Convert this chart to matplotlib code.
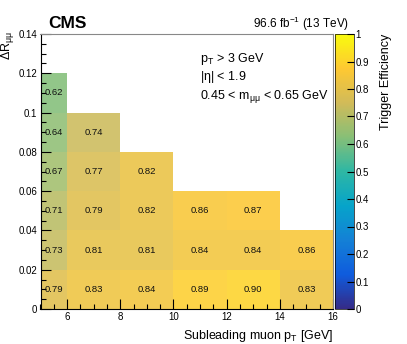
import numpy as np
import matplotlib.pyplot as plt
from matplotlib.colors import LinearSegmentedColormap
from matplotlib.ticker import MultipleLocator

plt.rcParams['font.family'] = ['Liberation Sans', 'DejaVu Sans']
plt.rcParams['mathtext.fontset'] = 'custom'
plt.rcParams['mathtext.rm'] = 'Liberation Sans'
plt.rcParams['mathtext.it'] = 'Liberation Sans'

# bin edges
pt_edges = [5, 6, 8, 10, 12, 14, 16]
dr_edges = [0, 0.02, 0.04, 0.06, 0.08, 0.10, 0.12]

# efficiency per (dR row, pT column); nan = empty
eff = np.array([
    [0.79, 0.83, 0.84, 0.89, 0.90, 0.83],
    [0.73, 0.81, 0.81, 0.84, 0.84, 0.86],
    [0.71, 0.79, 0.82, 0.86, 0.87, np.nan],
    [0.67, 0.77, 0.82, np.nan, np.nan, np.nan],
    [0.64, 0.74, np.nan, np.nan, np.nan, np.nan],
    [0.62, np.nan, np.nan, np.nan, np.nan, np.nan],
])

# ROOT kBird palette
stops = [0.0, 0.125, 0.25, 0.375, 0.5, 0.625, 0.75, 0.875, 1.0]
red = [0.2082, 0.0592, 0.0780, 0.0232, 0.1802, 0.5301, 0.8186, 0.9956, 0.9764]
green = [0.1664, 0.3599, 0.5041, 0.6419, 0.7178, 0.7492, 0.7328, 0.7862, 0.9832]
blue = [0.5293, 0.8684, 0.8385, 0.7914, 0.6425, 0.4662, 0.3499, 0.1968, 0.0539]
bird = LinearSegmentedColormap.from_list(
    'bird', [(s, (r, g, b)) for s, r, g, b in zip(stops, red, green, blue)])

fig = plt.figure(figsize=(4.07, 3.44), dpi=100)
ax = fig.add_axes([40.5 / 407, 35 / 344, 292.5 / 407, 275 / 344])
cax = fig.add_axes([335 / 407, 35 / 344, 19 / 407, 275 / 344])

mesh = ax.pcolormesh(pt_edges, dr_edges, np.ma.masked_invalid(eff),
                     cmap=bird, vmin=0, vmax=1, alpha=0.88, edgecolor='none')

for i in range(len(dr_edges) - 1):
    for j in range(len(pt_edges) - 1):
        v = eff[i, j]
        if np.isnan(v):
            continue
        xc = 0.5 * (pt_edges[j] + pt_edges[j + 1])
        yc = 0.5 * (dr_edges[i] + dr_edges[i + 1])
        ax.text(xc, yc, f'{v:.2f}', ha='center', va='center', fontsize=6.8, color='#111111')

ax.set_xlim(5, 16)
ax.set_ylim(0, 0.14)
ax.xaxis.set_minor_locator(MultipleLocator(0.5))
ax.yaxis.set_minor_locator(MultipleLocator(0.005))
ax.set_xticks([6, 8, 10, 12, 14, 16])
ax.set_xticklabels(['6', '8', '10', '12', '14', '16'])
ax.set_yticks([0, 0.02, 0.04, 0.06, 0.08, 0.1, 0.12, 0.14])
ax.set_yticklabels(['0', '0.02', '0.04', '0.06', '0.08', '0.1', '0.12', '0.14'])
ax.tick_params(which='both', direction='in', labelsize=7, top=False, right=False, pad=2.5)
ax.tick_params(which='major', length=7, width=0.8)
ax.tick_params(which='minor', length=3.5, width=0.8)
for s in ['top', 'right']:
    ax.spines[s].set_color('#888888')

ax.set_xlabel('Subleading muon p$_{\\mathregular{T}}$ [GeV]', fontsize=9, loc='right')
ax.set_ylabel('$\\Delta$R$_{\\mu\\mu}$', fontsize=9, loc='top')
ax.yaxis.set_label_coords(-24 / 292.5, 1.01)

ax.text(11.0, 0.1273, 'p$_{\\mathregular{T}}$ > 3 GeV', fontsize=9, va='center')
ax.text(11.0, 0.1181, '|$\\eta$| < 1.9', fontsize=9, va='center')
ax.text(11.0, 0.1084, '0.45 < m$_{\\mu\\mu}$ < 0.65 GeV', fontsize=9, va='center')

fig.text(48 / 407, 1 - 23 / 344, 'CMS', fontsize=12.5, fontweight='bold', va='center')
fig.text(349 / 407, 1 - 24 / 344, '96.6 fb$^{-1}$ (13 TeV)', fontsize=8.5,
         va='center', ha='right')

cb = fig.colorbar(mesh, cax=cax)
cb.solids.set_alpha(1)
cb.set_ticks(np.arange(0, 1.01, 0.1))
cb.set_ticklabels(['0', '0.1', '0.2', '0.3', '0.4', '0.5', '0.6', '0.7', '0.8', '0.9', '1'])
cb.ax.tick_params(direction='in', length=5, labelsize=7, pad=1)
cb.outline.set_linewidth(0.5)
cb.set_label('Trigger Efficiency', fontsize=9, loc='top', labelpad=8)

fig.savefig('out.png', dpi=100)
